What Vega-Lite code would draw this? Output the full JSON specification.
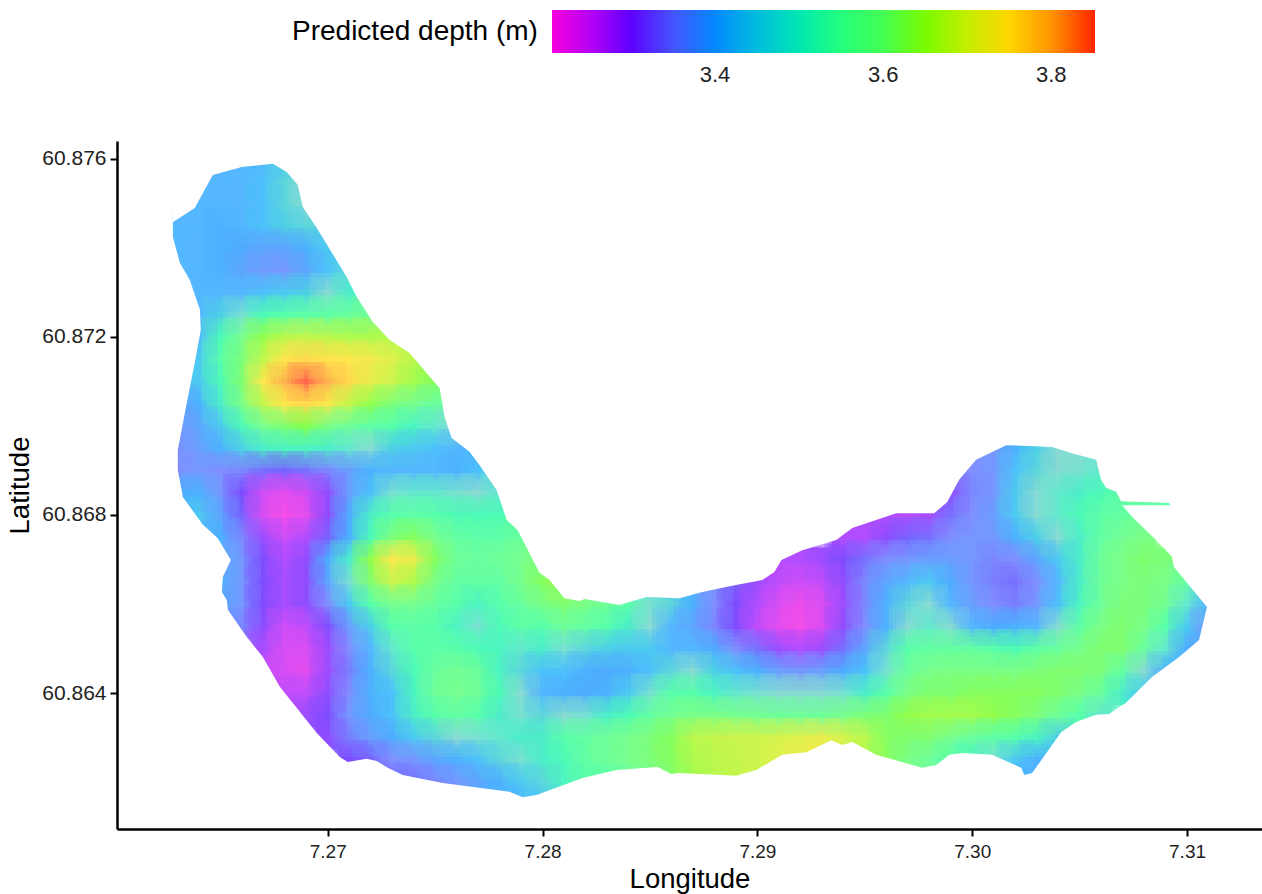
{"$schema":"https://vega.github.io/schema/vega-lite/v6.json","width":1145,"height":688,"autosize":{"type":"none"},"padding":{"left":117,"top":141,"right":0,"bottom":65},"background":"white","config":{"view":{"stroke":null},"font":"Liberation Sans"},
"datasets":{"cells":[
{"lon":7.266,"lat":60.876,"d":3.42},{"lon":7.267,"lat":60.876,"d":3.42},{"lon":7.268,"lat":60.876,"d":3.44},
{"lon":7.264,"lat":60.8755,"d":3.42},{"lon":7.265,"lat":60.8755,"d":3.42},{"lon":7.266,"lat":60.8755,"d":3.42},{"lon":7.267,"lat":60.8755,"d":3.43},{"lon":7.268,"lat":60.8755,"d":3.46},{"lon":7.269,"lat":60.8755,"d":3.47},
{"lon":7.264,"lat":60.875,"d":3.42},{"lon":7.265,"lat":60.875,"d":3.42},{"lon":7.266,"lat":60.875,"d":3.42},{"lon":7.267,"lat":60.875,"d":3.43},{"lon":7.268,"lat":60.875,"d":3.46},{"lon":7.269,"lat":60.875,"d":3.47},
{"lon":7.263,"lat":60.8745,"d":3.42},{"lon":7.264,"lat":60.8745,"d":3.42},{"lon":7.265,"lat":60.8745,"d":3.41},{"lon":7.266,"lat":60.8745,"d":3.42},{"lon":7.267,"lat":60.8745,"d":3.43},{"lon":7.268,"lat":60.8745,"d":3.45},{"lon":7.269,"lat":60.8745,"d":3.46},{"lon":7.27,"lat":60.8745,"d":3.46},
{"lon":7.263,"lat":60.874,"d":3.42},{"lon":7.264,"lat":60.874,"d":3.42},{"lon":7.265,"lat":60.874,"d":3.41},{"lon":7.266,"lat":60.874,"d":3.4},{"lon":7.267,"lat":60.874,"d":3.39},{"lon":7.268,"lat":60.874,"d":3.39},{"lon":7.269,"lat":60.874,"d":3.41},{"lon":7.27,"lat":60.874,"d":3.44},
{"lon":7.263,"lat":60.8735,"d":3.42},{"lon":7.264,"lat":60.8735,"d":3.42},{"lon":7.265,"lat":60.8735,"d":3.41},{"lon":7.266,"lat":60.8735,"d":3.39},{"lon":7.267,"lat":60.8735,"d":3.375},{"lon":7.268,"lat":60.8735,"d":3.37},{"lon":7.269,"lat":60.8735,"d":3.39},{"lon":7.27,"lat":60.8735,"d":3.43},{"lon":7.271,"lat":60.8735,"d":3.46},
{"lon":7.264,"lat":60.873,"d":3.42},{"lon":7.265,"lat":60.873,"d":3.42},{"lon":7.266,"lat":60.873,"d":3.42},{"lon":7.267,"lat":60.873,"d":3.43},{"lon":7.268,"lat":60.873,"d":3.44},{"lon":7.269,"lat":60.873,"d":3.45},{"lon":7.27,"lat":60.873,"d":3.47},{"lon":7.271,"lat":60.873,"d":3.5},
{"lon":7.264,"lat":60.8725,"d":3.42},{"lon":7.265,"lat":60.8725,"d":3.45},{"lon":7.266,"lat":60.8725,"d":3.48},{"lon":7.267,"lat":60.8725,"d":3.52},{"lon":7.268,"lat":60.8725,"d":3.53},{"lon":7.269,"lat":60.8725,"d":3.54},{"lon":7.27,"lat":60.8725,"d":3.54},{"lon":7.271,"lat":60.8725,"d":3.56},{"lon":7.272,"lat":60.8725,"d":3.58},
{"lon":7.264,"lat":60.872,"d":3.42},{"lon":7.265,"lat":60.872,"d":3.52},{"lon":7.266,"lat":60.872,"d":3.59},{"lon":7.267,"lat":60.872,"d":3.64},{"lon":7.268,"lat":60.872,"d":3.67},{"lon":7.269,"lat":60.872,"d":3.68},{"lon":7.27,"lat":60.872,"d":3.67},{"lon":7.271,"lat":60.872,"d":3.66},{"lon":7.272,"lat":60.872,"d":3.66},{"lon":7.273,"lat":60.872,"d":3.66},
{"lon":7.264,"lat":60.8715,"d":3.44},{"lon":7.265,"lat":60.8715,"d":3.53},{"lon":7.266,"lat":60.8715,"d":3.61},{"lon":7.267,"lat":60.8715,"d":3.68},{"lon":7.268,"lat":60.8715,"d":3.745},{"lon":7.269,"lat":60.8715,"d":3.76},{"lon":7.27,"lat":60.8715,"d":3.75},{"lon":7.271,"lat":60.8715,"d":3.745},{"lon":7.272,"lat":60.8715,"d":3.73},{"lon":7.273,"lat":60.8715,"d":3.71},{"lon":7.274,"lat":60.8715,"d":3.67},
{"lon":7.264,"lat":60.871,"d":3.44},{"lon":7.265,"lat":60.871,"d":3.52},{"lon":7.266,"lat":60.871,"d":3.62},{"lon":7.267,"lat":60.871,"d":3.74},{"lon":7.268,"lat":60.871,"d":3.8},{"lon":7.269,"lat":60.871,"d":3.85},{"lon":7.27,"lat":60.871,"d":3.8},{"lon":7.271,"lat":60.871,"d":3.76},{"lon":7.272,"lat":60.871,"d":3.72},{"lon":7.273,"lat":60.871,"d":3.69},{"lon":7.274,"lat":60.871,"d":3.65},{"lon":7.275,"lat":60.871,"d":3.63},
{"lon":7.263,"lat":60.8705,"d":3.38},{"lon":7.264,"lat":60.8705,"d":3.41},{"lon":7.265,"lat":60.8705,"d":3.5},{"lon":7.266,"lat":60.8705,"d":3.6},{"lon":7.267,"lat":60.8705,"d":3.68},{"lon":7.268,"lat":60.8705,"d":3.745},{"lon":7.269,"lat":60.8705,"d":3.76},{"lon":7.27,"lat":60.8705,"d":3.74},{"lon":7.271,"lat":60.8705,"d":3.68},{"lon":7.272,"lat":60.8705,"d":3.64},{"lon":7.273,"lat":60.8705,"d":3.61},{"lon":7.274,"lat":60.8705,"d":3.59},{"lon":7.275,"lat":60.8705,"d":3.56},
{"lon":7.263,"lat":60.87,"d":3.37},{"lon":7.264,"lat":60.87,"d":3.39},{"lon":7.265,"lat":60.87,"d":3.44},{"lon":7.266,"lat":60.87,"d":3.52},{"lon":7.267,"lat":60.87,"d":3.59},{"lon":7.268,"lat":60.87,"d":3.62},{"lon":7.269,"lat":60.87,"d":3.635},{"lon":7.27,"lat":60.87,"d":3.6},{"lon":7.271,"lat":60.87,"d":3.57},{"lon":7.272,"lat":60.87,"d":3.54},{"lon":7.273,"lat":60.87,"d":3.53},{"lon":7.274,"lat":60.87,"d":3.51},{"lon":7.275,"lat":60.87,"d":3.49},{"lon":7.276,"lat":60.87,"d":3.47},
{"lon":7.263,"lat":60.8695,"d":3.36},{"lon":7.264,"lat":60.8695,"d":3.38},{"lon":7.265,"lat":60.8695,"d":3.41},{"lon":7.266,"lat":60.8695,"d":3.45},{"lon":7.267,"lat":60.8695,"d":3.5},{"lon":7.268,"lat":60.8695,"d":3.51},{"lon":7.269,"lat":60.8695,"d":3.51},{"lon":7.27,"lat":60.8695,"d":3.5},{"lon":7.271,"lat":60.8695,"d":3.49},{"lon":7.272,"lat":60.8695,"d":3.47},{"lon":7.273,"lat":60.8695,"d":3.45},{"lon":7.274,"lat":60.8695,"d":3.44},{"lon":7.275,"lat":60.8695,"d":3.43},{"lon":7.276,"lat":60.8695,"d":3.42},{"lon":7.277,"lat":60.8695,"d":3.41},{"lon":7.301,"lat":60.8695,"d":3.37},{"lon":7.302,"lat":60.8695,"d":3.41},{"lon":7.303,"lat":60.8695,"d":3.45},{"lon":7.304,"lat":60.8695,"d":3.47},{"lon":7.305,"lat":60.8695,"d":3.47},
{"lon":7.263,"lat":60.869,"d":3.36},{"lon":7.264,"lat":60.869,"d":3.37},{"lon":7.265,"lat":60.869,"d":3.36},{"lon":7.266,"lat":60.869,"d":3.35},{"lon":7.267,"lat":60.869,"d":3.33},{"lon":7.268,"lat":60.869,"d":3.32},{"lon":7.269,"lat":60.869,"d":3.33},{"lon":7.27,"lat":60.869,"d":3.35},{"lon":7.271,"lat":60.869,"d":3.38},{"lon":7.272,"lat":60.869,"d":3.41},{"lon":7.273,"lat":60.869,"d":3.42},{"lon":7.274,"lat":60.869,"d":3.42},{"lon":7.275,"lat":60.869,"d":3.42},{"lon":7.276,"lat":60.869,"d":3.41},{"lon":7.277,"lat":60.869,"d":3.43},{"lon":7.278,"lat":60.869,"d":3.46},{"lon":7.3,"lat":60.869,"d":3.36},{"lon":7.301,"lat":60.869,"d":3.37},{"lon":7.302,"lat":60.869,"d":3.43},{"lon":7.303,"lat":60.869,"d":3.46},{"lon":7.304,"lat":60.869,"d":3.47},{"lon":7.305,"lat":60.869,"d":3.48},{"lon":7.306,"lat":60.869,"d":3.49},
{"lon":7.263,"lat":60.8685,"d":3.4},{"lon":7.264,"lat":60.8685,"d":3.41},{"lon":7.265,"lat":60.8685,"d":3.37},{"lon":7.266,"lat":60.8685,"d":3.31},{"lon":7.267,"lat":60.8685,"d":3.25},{"lon":7.268,"lat":60.8685,"d":3.23},{"lon":7.269,"lat":60.8685,"d":3.25},{"lon":7.27,"lat":60.8685,"d":3.3},{"lon":7.271,"lat":60.8685,"d":3.38},{"lon":7.272,"lat":60.8685,"d":3.43},{"lon":7.273,"lat":60.8685,"d":3.48},{"lon":7.274,"lat":60.8685,"d":3.49},{"lon":7.275,"lat":60.8685,"d":3.49},{"lon":7.276,"lat":60.8685,"d":3.48},{"lon":7.277,"lat":60.8685,"d":3.47},{"lon":7.278,"lat":60.8685,"d":3.49},{"lon":7.299,"lat":60.8685,"d":3.3},{"lon":7.3,"lat":60.8685,"d":3.35},{"lon":7.301,"lat":60.8685,"d":3.37},{"lon":7.302,"lat":60.8685,"d":3.44},{"lon":7.303,"lat":60.8685,"d":3.47},{"lon":7.304,"lat":60.8685,"d":3.49},{"lon":7.305,"lat":60.8685,"d":3.5},{"lon":7.306,"lat":60.8685,"d":3.52},{"lon":7.307,"lat":60.8685,"d":3.54},{"lon":7.308,"lat":60.8685,"d":3.54},{"lon":7.309,"lat":60.8685,"d":3.54},
{"lon":7.264,"lat":60.868,"d":3.44},{"lon":7.265,"lat":60.868,"d":3.39},{"lon":7.266,"lat":60.868,"d":3.32},{"lon":7.267,"lat":60.868,"d":3.24},{"lon":7.268,"lat":60.868,"d":3.21},{"lon":7.269,"lat":60.868,"d":3.23},{"lon":7.27,"lat":60.868,"d":3.3},{"lon":7.271,"lat":60.868,"d":3.4},{"lon":7.272,"lat":60.868,"d":3.5},{"lon":7.273,"lat":60.868,"d":3.53},{"lon":7.274,"lat":60.868,"d":3.54},{"lon":7.275,"lat":60.868,"d":3.53},{"lon":7.276,"lat":60.868,"d":3.52},{"lon":7.277,"lat":60.868,"d":3.52},{"lon":7.278,"lat":60.868,"d":3.52},{"lon":7.279,"lat":60.868,"d":3.53},{"lon":7.295,"lat":60.868,"d":3.27},{"lon":7.296,"lat":60.868,"d":3.27},{"lon":7.297,"lat":60.868,"d":3.27},{"lon":7.298,"lat":60.868,"d":3.28},{"lon":7.299,"lat":60.868,"d":3.33},{"lon":7.3,"lat":60.868,"d":3.36},{"lon":7.301,"lat":60.868,"d":3.38},{"lon":7.302,"lat":60.868,"d":3.44},{"lon":7.303,"lat":60.868,"d":3.47},{"lon":7.304,"lat":60.868,"d":3.49},{"lon":7.305,"lat":60.868,"d":3.52},{"lon":7.306,"lat":60.868,"d":3.54},{"lon":7.307,"lat":60.868,"d":3.55},{"lon":7.308,"lat":60.868,"d":3.56},{"lon":7.309,"lat":60.868,"d":3.54},
{"lon":7.265,"lat":60.8675,"d":3.41},{"lon":7.266,"lat":60.8675,"d":3.35},{"lon":7.267,"lat":60.8675,"d":3.29},{"lon":7.268,"lat":60.8675,"d":3.25},{"lon":7.269,"lat":60.8675,"d":3.27},{"lon":7.27,"lat":60.8675,"d":3.32},{"lon":7.271,"lat":60.8675,"d":3.41},{"lon":7.272,"lat":60.8675,"d":3.52},{"lon":7.273,"lat":60.8675,"d":3.61},{"lon":7.274,"lat":60.8675,"d":3.63},{"lon":7.275,"lat":60.8675,"d":3.59},{"lon":7.276,"lat":60.8675,"d":3.55},{"lon":7.277,"lat":60.8675,"d":3.54},{"lon":7.278,"lat":60.8675,"d":3.54},{"lon":7.279,"lat":60.8675,"d":3.56},{"lon":7.294,"lat":60.8675,"d":3.27},{"lon":7.295,"lat":60.8675,"d":3.27},{"lon":7.296,"lat":60.8675,"d":3.3},{"lon":7.297,"lat":60.8675,"d":3.32},{"lon":7.298,"lat":60.8675,"d":3.33},{"lon":7.299,"lat":60.8675,"d":3.36},{"lon":7.3,"lat":60.8675,"d":3.37},{"lon":7.301,"lat":60.8675,"d":3.37},{"lon":7.302,"lat":60.8675,"d":3.41},{"lon":7.303,"lat":60.8675,"d":3.45},{"lon":7.304,"lat":60.8675,"d":3.47},{"lon":7.305,"lat":60.8675,"d":3.5},{"lon":7.306,"lat":60.8675,"d":3.55},{"lon":7.307,"lat":60.8675,"d":3.58},{"lon":7.308,"lat":60.8675,"d":3.6},
{"lon":7.265,"lat":60.867,"d":3.42},{"lon":7.266,"lat":60.867,"d":3.37},{"lon":7.267,"lat":60.867,"d":3.31},{"lon":7.268,"lat":60.867,"d":3.27},{"lon":7.269,"lat":60.867,"d":3.3},{"lon":7.27,"lat":60.867,"d":3.4},{"lon":7.271,"lat":60.867,"d":3.5},{"lon":7.272,"lat":60.867,"d":3.64},{"lon":7.273,"lat":60.867,"d":3.74},{"lon":7.274,"lat":60.867,"d":3.72},{"lon":7.275,"lat":60.867,"d":3.63},{"lon":7.276,"lat":60.867,"d":3.57},{"lon":7.277,"lat":60.867,"d":3.56},{"lon":7.278,"lat":60.867,"d":3.57},{"lon":7.279,"lat":60.867,"d":3.59},{"lon":7.28,"lat":60.867,"d":3.61},{"lon":7.291,"lat":60.867,"d":3.27},{"lon":7.292,"lat":60.867,"d":3.27},{"lon":7.293,"lat":60.867,"d":3.29},{"lon":7.294,"lat":60.867,"d":3.31},{"lon":7.295,"lat":60.867,"d":3.33},{"lon":7.296,"lat":60.867,"d":3.36},{"lon":7.297,"lat":60.867,"d":3.37},{"lon":7.298,"lat":60.867,"d":3.38},{"lon":7.299,"lat":60.867,"d":3.38},{"lon":7.3,"lat":60.867,"d":3.37},{"lon":7.301,"lat":60.867,"d":3.35},{"lon":7.302,"lat":60.867,"d":3.36},{"lon":7.303,"lat":60.867,"d":3.39},{"lon":7.304,"lat":60.867,"d":3.44},{"lon":7.305,"lat":60.867,"d":3.5},{"lon":7.306,"lat":60.867,"d":3.57},{"lon":7.307,"lat":60.867,"d":3.6},{"lon":7.308,"lat":60.867,"d":3.62},{"lon":7.309,"lat":60.867,"d":3.61},
{"lon":7.265,"lat":60.8665,"d":3.41},{"lon":7.266,"lat":60.8665,"d":3.37},{"lon":7.267,"lat":60.8665,"d":3.31},{"lon":7.268,"lat":60.8665,"d":3.28},{"lon":7.269,"lat":60.8665,"d":3.3},{"lon":7.27,"lat":60.8665,"d":3.39},{"lon":7.271,"lat":60.8665,"d":3.48},{"lon":7.272,"lat":60.8665,"d":3.62},{"lon":7.273,"lat":60.8665,"d":3.69},{"lon":7.274,"lat":60.8665,"d":3.66},{"lon":7.275,"lat":60.8665,"d":3.6},{"lon":7.276,"lat":60.8665,"d":3.55},{"lon":7.277,"lat":60.8665,"d":3.55},{"lon":7.278,"lat":60.8665,"d":3.55},{"lon":7.279,"lat":60.8665,"d":3.59},{"lon":7.28,"lat":60.8665,"d":3.63},{"lon":7.281,"lat":60.8665,"d":3.65},{"lon":7.288,"lat":60.8665,"d":3.37},{"lon":7.289,"lat":60.8665,"d":3.32},{"lon":7.29,"lat":60.8665,"d":3.29},{"lon":7.291,"lat":60.8665,"d":3.26},{"lon":7.292,"lat":60.8665,"d":3.25},{"lon":7.293,"lat":60.8665,"d":3.26},{"lon":7.294,"lat":60.8665,"d":3.3},{"lon":7.295,"lat":60.8665,"d":3.35},{"lon":7.296,"lat":60.8665,"d":3.39},{"lon":7.297,"lat":60.8665,"d":3.42},{"lon":7.298,"lat":60.8665,"d":3.44},{"lon":7.299,"lat":60.8665,"d":3.4},{"lon":7.3,"lat":60.8665,"d":3.37},{"lon":7.301,"lat":60.8665,"d":3.34},{"lon":7.302,"lat":60.8665,"d":3.33},{"lon":7.303,"lat":60.8665,"d":3.36},{"lon":7.304,"lat":60.8665,"d":3.42},{"lon":7.305,"lat":60.8665,"d":3.5},{"lon":7.306,"lat":60.8665,"d":3.57},{"lon":7.307,"lat":60.8665,"d":3.6},{"lon":7.308,"lat":60.8665,"d":3.61},{"lon":7.309,"lat":60.8665,"d":3.6},{"lon":7.31,"lat":60.8665,"d":3.55},
{"lon":7.265,"lat":60.866,"d":3.4},{"lon":7.266,"lat":60.866,"d":3.37},{"lon":7.267,"lat":60.866,"d":3.31},{"lon":7.268,"lat":60.866,"d":3.28},{"lon":7.269,"lat":60.866,"d":3.3},{"lon":7.27,"lat":60.866,"d":3.36},{"lon":7.271,"lat":60.866,"d":3.44},{"lon":7.272,"lat":60.866,"d":3.53},{"lon":7.273,"lat":60.866,"d":3.59},{"lon":7.274,"lat":60.866,"d":3.59},{"lon":7.275,"lat":60.866,"d":3.56},{"lon":7.276,"lat":60.866,"d":3.53},{"lon":7.277,"lat":60.866,"d":3.51},{"lon":7.278,"lat":60.866,"d":3.53},{"lon":7.279,"lat":60.866,"d":3.56},{"lon":7.28,"lat":60.866,"d":3.6},{"lon":7.281,"lat":60.866,"d":3.62},{"lon":7.282,"lat":60.866,"d":3.6},{"lon":7.283,"lat":60.866,"d":3.57},{"lon":7.284,"lat":60.866,"d":3.53},{"lon":7.285,"lat":60.866,"d":3.48},{"lon":7.286,"lat":60.866,"d":3.46},{"lon":7.287,"lat":60.866,"d":3.41},{"lon":7.288,"lat":60.866,"d":3.36},{"lon":7.289,"lat":60.866,"d":3.31},{"lon":7.29,"lat":60.866,"d":3.27},{"lon":7.291,"lat":60.866,"d":3.24},{"lon":7.292,"lat":60.866,"d":3.22},{"lon":7.293,"lat":60.866,"d":3.24},{"lon":7.294,"lat":60.866,"d":3.29},{"lon":7.295,"lat":60.866,"d":3.35},{"lon":7.296,"lat":60.866,"d":3.41},{"lon":7.297,"lat":60.866,"d":3.46},{"lon":7.298,"lat":60.866,"d":3.47},{"lon":7.299,"lat":60.866,"d":3.42},{"lon":7.3,"lat":60.866,"d":3.38},{"lon":7.301,"lat":60.866,"d":3.36},{"lon":7.302,"lat":60.866,"d":3.34},{"lon":7.303,"lat":60.866,"d":3.37},{"lon":7.304,"lat":60.866,"d":3.43},{"lon":7.305,"lat":60.866,"d":3.51},{"lon":7.306,"lat":60.866,"d":3.57},{"lon":7.307,"lat":60.866,"d":3.61},{"lon":7.308,"lat":60.866,"d":3.61},{"lon":7.309,"lat":60.866,"d":3.58},{"lon":7.31,"lat":60.866,"d":3.49},{"lon":7.311,"lat":60.866,"d":3.42},
{"lon":7.266,"lat":60.8655,"d":3.35},{"lon":7.267,"lat":60.8655,"d":3.3},{"lon":7.268,"lat":60.8655,"d":3.25},{"lon":7.269,"lat":60.8655,"d":3.26},{"lon":7.27,"lat":60.8655,"d":3.31},{"lon":7.271,"lat":60.8655,"d":3.38},{"lon":7.272,"lat":60.8655,"d":3.45},{"lon":7.273,"lat":60.8655,"d":3.53},{"lon":7.274,"lat":60.8655,"d":3.54},{"lon":7.275,"lat":60.8655,"d":3.53},{"lon":7.276,"lat":60.8655,"d":3.51},{"lon":7.277,"lat":60.8655,"d":3.48},{"lon":7.278,"lat":60.8655,"d":3.52},{"lon":7.279,"lat":60.8655,"d":3.54},{"lon":7.28,"lat":60.8655,"d":3.53},{"lon":7.281,"lat":60.8655,"d":3.57},{"lon":7.282,"lat":60.8655,"d":3.55},{"lon":7.283,"lat":60.8655,"d":3.53},{"lon":7.284,"lat":60.8655,"d":3.5},{"lon":7.285,"lat":60.8655,"d":3.47},{"lon":7.286,"lat":60.8655,"d":3.42},{"lon":7.287,"lat":60.8655,"d":3.39},{"lon":7.288,"lat":60.8655,"d":3.35},{"lon":7.289,"lat":60.8655,"d":3.31},{"lon":7.29,"lat":60.8655,"d":3.26},{"lon":7.291,"lat":60.8655,"d":3.23},{"lon":7.292,"lat":60.8655,"d":3.21},{"lon":7.293,"lat":60.8655,"d":3.24},{"lon":7.294,"lat":60.8655,"d":3.3},{"lon":7.295,"lat":60.8655,"d":3.36},{"lon":7.296,"lat":60.8655,"d":3.41},{"lon":7.297,"lat":60.8655,"d":3.47},{"lon":7.298,"lat":60.8655,"d":3.49},{"lon":7.299,"lat":60.8655,"d":3.47},{"lon":7.3,"lat":60.8655,"d":3.42},{"lon":7.301,"lat":60.8655,"d":3.4},{"lon":7.302,"lat":60.8655,"d":3.41},{"lon":7.303,"lat":60.8655,"d":3.42},{"lon":7.304,"lat":60.8655,"d":3.47},{"lon":7.305,"lat":60.8655,"d":3.54},{"lon":7.306,"lat":60.8655,"d":3.6},{"lon":7.307,"lat":60.8655,"d":3.62},{"lon":7.308,"lat":60.8655,"d":3.6},{"lon":7.309,"lat":60.8655,"d":3.53},{"lon":7.31,"lat":60.8655,"d":3.44},{"lon":7.311,"lat":60.8655,"d":3.37},
{"lon":7.267,"lat":60.865,"d":3.28},{"lon":7.268,"lat":60.865,"d":3.24},{"lon":7.269,"lat":60.865,"d":3.24},{"lon":7.27,"lat":60.865,"d":3.29},{"lon":7.271,"lat":60.865,"d":3.36},{"lon":7.272,"lat":60.865,"d":3.42},{"lon":7.273,"lat":60.865,"d":3.49},{"lon":7.274,"lat":60.865,"d":3.53},{"lon":7.275,"lat":60.865,"d":3.54},{"lon":7.276,"lat":60.865,"d":3.53},{"lon":7.277,"lat":60.865,"d":3.52},{"lon":7.278,"lat":60.865,"d":3.51},{"lon":7.279,"lat":60.865,"d":3.49},{"lon":7.28,"lat":60.865,"d":3.5},{"lon":7.281,"lat":60.865,"d":3.48},{"lon":7.282,"lat":60.865,"d":3.46},{"lon":7.283,"lat":60.865,"d":3.45},{"lon":7.284,"lat":60.865,"d":3.44},{"lon":7.285,"lat":60.865,"d":3.44},{"lon":7.286,"lat":60.865,"d":3.42},{"lon":7.287,"lat":60.865,"d":3.42},{"lon":7.288,"lat":60.865,"d":3.4},{"lon":7.289,"lat":60.865,"d":3.36},{"lon":7.29,"lat":60.865,"d":3.33},{"lon":7.291,"lat":60.865,"d":3.29},{"lon":7.292,"lat":60.865,"d":3.27},{"lon":7.293,"lat":60.865,"d":3.29},{"lon":7.294,"lat":60.865,"d":3.33},{"lon":7.295,"lat":60.865,"d":3.39},{"lon":7.296,"lat":60.865,"d":3.46},{"lon":7.297,"lat":60.865,"d":3.53},{"lon":7.298,"lat":60.865,"d":3.55},{"lon":7.299,"lat":60.865,"d":3.55},{"lon":7.3,"lat":60.865,"d":3.55},{"lon":7.301,"lat":60.865,"d":3.53},{"lon":7.302,"lat":60.865,"d":3.52},{"lon":7.303,"lat":60.865,"d":3.54},{"lon":7.304,"lat":60.865,"d":3.56},{"lon":7.305,"lat":60.865,"d":3.59},{"lon":7.306,"lat":60.865,"d":3.62},{"lon":7.307,"lat":60.865,"d":3.62},{"lon":7.308,"lat":60.865,"d":3.56},{"lon":7.309,"lat":60.865,"d":3.49},{"lon":7.31,"lat":60.865,"d":3.4},
{"lon":7.267,"lat":60.8645,"d":3.26},{"lon":7.268,"lat":60.8645,"d":3.24},{"lon":7.269,"lat":60.8645,"d":3.23},{"lon":7.27,"lat":60.8645,"d":3.29},{"lon":7.271,"lat":60.8645,"d":3.34},{"lon":7.272,"lat":60.8645,"d":3.41},{"lon":7.273,"lat":60.8645,"d":3.46},{"lon":7.274,"lat":60.8645,"d":3.52},{"lon":7.275,"lat":60.8645,"d":3.56},{"lon":7.276,"lat":60.8645,"d":3.58},{"lon":7.277,"lat":60.8645,"d":3.56},{"lon":7.278,"lat":60.8645,"d":3.51},{"lon":7.279,"lat":60.8645,"d":3.46},{"lon":7.28,"lat":60.8645,"d":3.43},{"lon":7.281,"lat":60.8645,"d":3.43},{"lon":7.282,"lat":60.8645,"d":3.41},{"lon":7.283,"lat":60.8645,"d":3.4},{"lon":7.284,"lat":60.8645,"d":3.41},{"lon":7.285,"lat":60.8645,"d":3.43},{"lon":7.286,"lat":60.8645,"d":3.46},{"lon":7.287,"lat":60.8645,"d":3.47},{"lon":7.288,"lat":60.8645,"d":3.45},{"lon":7.289,"lat":60.8645,"d":3.43},{"lon":7.29,"lat":60.8645,"d":3.41},{"lon":7.291,"lat":60.8645,"d":3.38},{"lon":7.292,"lat":60.8645,"d":3.37},{"lon":7.293,"lat":60.8645,"d":3.38},{"lon":7.294,"lat":60.8645,"d":3.4},{"lon":7.295,"lat":60.8645,"d":3.43},{"lon":7.296,"lat":60.8645,"d":3.48},{"lon":7.297,"lat":60.8645,"d":3.56},{"lon":7.298,"lat":60.8645,"d":3.59},{"lon":7.299,"lat":60.8645,"d":3.6},{"lon":7.3,"lat":60.8645,"d":3.6},{"lon":7.301,"lat":60.8645,"d":3.6},{"lon":7.302,"lat":60.8645,"d":3.6},{"lon":7.303,"lat":60.8645,"d":3.61},{"lon":7.304,"lat":60.8645,"d":3.62},{"lon":7.305,"lat":60.8645,"d":3.62},{"lon":7.306,"lat":60.8645,"d":3.61},{"lon":7.307,"lat":60.8645,"d":3.55},{"lon":7.308,"lat":60.8645,"d":3.47},{"lon":7.309,"lat":60.8645,"d":3.41},
{"lon":7.268,"lat":60.864,"d":3.26},{"lon":7.269,"lat":60.864,"d":3.26},{"lon":7.27,"lat":60.864,"d":3.3},{"lon":7.271,"lat":60.864,"d":3.36},{"lon":7.272,"lat":60.864,"d":3.41},{"lon":7.273,"lat":60.864,"d":3.43},{"lon":7.274,"lat":60.864,"d":3.51},{"lon":7.275,"lat":60.864,"d":3.57},{"lon":7.276,"lat":60.864,"d":3.59},{"lon":7.277,"lat":60.864,"d":3.57},{"lon":7.278,"lat":60.864,"d":3.52},{"lon":7.279,"lat":60.864,"d":3.47},{"lon":7.28,"lat":60.864,"d":3.42},{"lon":7.281,"lat":60.864,"d":3.41},{"lon":7.282,"lat":60.864,"d":3.4},{"lon":7.283,"lat":60.864,"d":3.41},{"lon":7.284,"lat":60.864,"d":3.44},{"lon":7.285,"lat":60.864,"d":3.48},{"lon":7.286,"lat":60.864,"d":3.53},{"lon":7.287,"lat":60.864,"d":3.53},{"lon":7.288,"lat":60.864,"d":3.51},{"lon":7.289,"lat":60.864,"d":3.49},{"lon":7.29,"lat":60.864,"d":3.48},{"lon":7.291,"lat":60.864,"d":3.47},{"lon":7.292,"lat":60.864,"d":3.47},{"lon":7.293,"lat":60.864,"d":3.47},{"lon":7.294,"lat":60.864,"d":3.48},{"lon":7.295,"lat":60.864,"d":3.5},{"lon":7.296,"lat":60.864,"d":3.53},{"lon":7.297,"lat":60.864,"d":3.6},{"lon":7.298,"lat":60.864,"d":3.62},{"lon":7.299,"lat":60.864,"d":3.62},{"lon":7.3,"lat":60.864,"d":3.63},{"lon":7.301,"lat":60.864,"d":3.63},{"lon":7.302,"lat":60.864,"d":3.63},{"lon":7.303,"lat":60.864,"d":3.63},{"lon":7.304,"lat":60.864,"d":3.62},{"lon":7.305,"lat":60.864,"d":3.6},{"lon":7.306,"lat":60.864,"d":3.56},{"lon":7.307,"lat":60.864,"d":3.5},{"lon":7.308,"lat":60.864,"d":3.44},
{"lon":7.269,"lat":60.8635,"d":3.29},{"lon":7.27,"lat":60.8635,"d":3.31},{"lon":7.271,"lat":60.8635,"d":3.37},{"lon":7.272,"lat":60.8635,"d":3.4},{"lon":7.273,"lat":60.8635,"d":3.43},{"lon":7.274,"lat":60.8635,"d":3.5},{"lon":7.275,"lat":60.8635,"d":3.53},{"lon":7.276,"lat":60.8635,"d":3.55},{"lon":7.277,"lat":60.8635,"d":3.53},{"lon":7.278,"lat":60.8635,"d":3.5},{"lon":7.279,"lat":60.8635,"d":3.48},{"lon":7.28,"lat":60.8635,"d":3.46},{"lon":7.281,"lat":60.8635,"d":3.47},{"lon":7.282,"lat":60.8635,"d":3.48},{"lon":7.283,"lat":60.8635,"d":3.5},{"lon":7.284,"lat":60.8635,"d":3.52},{"lon":7.285,"lat":60.8635,"d":3.55},{"lon":7.286,"lat":60.8635,"d":3.58},{"lon":7.287,"lat":60.8635,"d":3.6},{"lon":7.288,"lat":60.8635,"d":3.6},{"lon":7.289,"lat":60.8635,"d":3.59},{"lon":7.29,"lat":60.8635,"d":3.58},{"lon":7.291,"lat":60.8635,"d":3.57},{"lon":7.292,"lat":60.8635,"d":3.57},{"lon":7.293,"lat":60.8635,"d":3.57},{"lon":7.294,"lat":60.8635,"d":3.59},{"lon":7.295,"lat":60.8635,"d":3.61},{"lon":7.296,"lat":60.8635,"d":3.62},{"lon":7.297,"lat":60.8635,"d":3.64},{"lon":7.298,"lat":60.8635,"d":3.65},{"lon":7.299,"lat":60.8635,"d":3.65},{"lon":7.3,"lat":60.8635,"d":3.65},{"lon":7.301,"lat":60.8635,"d":3.64},{"lon":7.302,"lat":60.8635,"d":3.63},{"lon":7.303,"lat":60.8635,"d":3.61},{"lon":7.304,"lat":60.8635,"d":3.57},{"lon":7.305,"lat":60.8635,"d":3.53},{"lon":7.306,"lat":60.8635,"d":3.49},
{"lon":7.27,"lat":60.863,"d":3.3},{"lon":7.271,"lat":60.863,"d":3.34},{"lon":7.272,"lat":60.863,"d":3.38},{"lon":7.273,"lat":60.863,"d":3.4},{"lon":7.274,"lat":60.863,"d":3.44},{"lon":7.275,"lat":60.863,"d":3.46},{"lon":7.276,"lat":60.863,"d":3.47},{"lon":7.277,"lat":60.863,"d":3.48},{"lon":7.278,"lat":60.863,"d":3.49},{"lon":7.279,"lat":60.863,"d":3.5},{"lon":7.28,"lat":60.863,"d":3.5},{"lon":7.281,"lat":60.863,"d":3.53},{"lon":7.282,"lat":60.863,"d":3.55},{"lon":7.283,"lat":60.863,"d":3.57},{"lon":7.284,"lat":60.863,"d":3.59},{"lon":7.285,"lat":60.863,"d":3.61},{"lon":7.286,"lat":60.863,"d":3.63},{"lon":7.287,"lat":60.863,"d":3.67},{"lon":7.288,"lat":60.863,"d":3.68},{"lon":7.289,"lat":60.863,"d":3.69},{"lon":7.29,"lat":60.863,"d":3.69},{"lon":7.291,"lat":60.863,"d":3.7},{"lon":7.292,"lat":60.863,"d":3.71},{"lon":7.293,"lat":60.863,"d":3.72},{"lon":7.294,"lat":60.863,"d":3.7},{"lon":7.295,"lat":60.863,"d":3.67},{"lon":7.296,"lat":60.863,"d":3.63},{"lon":7.297,"lat":60.863,"d":3.62},{"lon":7.298,"lat":60.863,"d":3.62},{"lon":7.299,"lat":60.863,"d":3.59},{"lon":7.3,"lat":60.863,"d":3.56},{"lon":7.301,"lat":60.863,"d":3.54},{"lon":7.302,"lat":60.863,"d":3.53},{"lon":7.303,"lat":60.863,"d":3.51},{"lon":7.304,"lat":60.863,"d":3.45},
{"lon":7.271,"lat":60.8625,"d":3.31},{"lon":7.272,"lat":60.8625,"d":3.32},{"lon":7.273,"lat":60.8625,"d":3.36},{"lon":7.274,"lat":60.8625,"d":3.37},{"lon":7.275,"lat":60.8625,"d":3.39},{"lon":7.276,"lat":60.8625,"d":3.41},{"lon":7.277,"lat":60.8625,"d":3.43},{"lon":7.278,"lat":60.8625,"d":3.46},{"lon":7.279,"lat":60.8625,"d":3.48},{"lon":7.28,"lat":60.8625,"d":3.5},{"lon":7.281,"lat":60.8625,"d":3.52},{"lon":7.282,"lat":60.8625,"d":3.55},{"lon":7.283,"lat":60.8625,"d":3.57},{"lon":7.284,"lat":60.8625,"d":3.59},{"lon":7.285,"lat":60.8625,"d":3.61},{"lon":7.286,"lat":60.8625,"d":3.63},{"lon":7.287,"lat":60.8625,"d":3.66},{"lon":7.288,"lat":60.8625,"d":3.67},{"lon":7.289,"lat":60.8625,"d":3.68},{"lon":7.29,"lat":60.8625,"d":3.69},{"lon":7.291,"lat":60.8625,"d":3.71},{"lon":7.292,"lat":60.8625,"d":3.72},{"lon":7.293,"lat":60.8625,"d":3.73},{"lon":7.294,"lat":60.8625,"d":3.7},{"lon":7.295,"lat":60.8625,"d":3.67},{"lon":7.296,"lat":60.8625,"d":3.63},{"lon":7.297,"lat":60.8625,"d":3.6},{"lon":7.298,"lat":60.8625,"d":3.57},{"lon":7.299,"lat":60.8625,"d":3.53},{"lon":7.3,"lat":60.8625,"d":3.51},{"lon":7.301,"lat":60.8625,"d":3.48},{"lon":7.302,"lat":60.8625,"d":3.44},{"lon":7.303,"lat":60.8625,"d":3.41},
{"lon":7.273,"lat":60.862,"d":3.33},{"lon":7.274,"lat":60.862,"d":3.33},{"lon":7.275,"lat":60.862,"d":3.35},{"lon":7.276,"lat":60.862,"d":3.37},{"lon":7.277,"lat":60.862,"d":3.39},{"lon":7.278,"lat":60.862,"d":3.41},{"lon":7.279,"lat":60.862,"d":3.44},{"lon":7.28,"lat":60.862,"d":3.46},{"lon":7.281,"lat":60.862,"d":3.51},{"lon":7.282,"lat":60.862,"d":3.53},{"lon":7.283,"lat":60.862,"d":3.53},{"lon":7.284,"lat":60.862,"d":3.56},{"lon":7.285,"lat":60.862,"d":3.59},{"lon":7.286,"lat":60.862,"d":3.62},{"lon":7.287,"lat":60.862,"d":3.65},{"lon":7.288,"lat":60.862,"d":3.67},{"lon":7.289,"lat":60.862,"d":3.68},{"lon":7.29,"lat":60.862,"d":3.69},{"lon":7.302,"lat":60.862,"d":3.42},{"lon":7.303,"lat":60.862,"d":3.41},
{"lon":7.278,"lat":60.8615,"d":3.41},{"lon":7.279,"lat":60.8615,"d":3.42},{"lon":7.28,"lat":60.8615,"d":3.44}
]},
"encoding":{"x":{"field":"lon","type":"quantitative","title":"Longitude","scale":{"domain":[7.26019,7.31349],"nice":false,"zero":false},"axis":{"values":[7.27,7.28,7.29,7.3,7.31],"format":".2f","grid":false,"zindex":1,"domainColor":"black","domainWidth":2.5,"tickColor":"black","tickWidth":2,"tickSize":7,"labelColor":"#222222","labelFontSize":19,"labelPadding":6,"titleFontSize":27.5,"titleFontWeight":"normal","titleColor":"black","titlePadding":4}},"y":{"field":"lat","type":"quantitative","title":"Latitude","scale":{"domain":[60.860944,60.876404],"nice":false,"zero":false},"axis":{"values":[60.864,60.868,60.872,60.876],"format":".3f","grid":false,"zindex":1,"domainColor":"black","domainWidth":2.5,"tickColor":"black","tickWidth":2,"tickSize":7,"labelColor":"#222222","labelFontSize":21,"labelPadding":4,"titleFontSize":27.5,"titleFontWeight":"normal","titleColor":"black","titlePadding":7}}},
"layer":[
{"data":{"name":"cells"},"mark":{"type":"rect","width":23,"height":24,"clip":true},"encoding":{"color":{"field":"d","type":"quantitative","title":"Predicted depth (m)","scale":{"domain":[3.206,3.27,3.313,3.36,3.42,3.47,3.53,3.59,3.635,3.7,3.745,3.795,3.852],"range":["#f500dc","#9000ff","#4000ff","#4a60ff","#0d99ff","#55ccc0","#12ff88","#40ff60","#55ff00","#c4ee00","#ffdd00","#ff9a00","#ff2000"],"clamp":true,"nice":false,"zero":false},"legend":{"orient":"none","legendX":175,"legendY":-131,"direction":"horizontal","titleOrient":"left","titleLimit":320,"gradientLength":543,"gradientThickness":43,"gradientStrokeWidth":0,"values":[3.4,3.6,3.8],"format":".1f","titleFontSize":28,"titleFontWeight":"normal","titleColor":"black","titlePadding":14,"labelFontSize":22,"labelColor":"#222222","labelOffset":12}}}},
{"data":{"name":"cells"},"mark":{"type":"rect","width":30,"height":31,"fillOpacity":0.4,"clip":true},"encoding":{"color":{"field":"d","type":"quantitative","legend":null,"scale":{"domain":[3.206,3.27,3.313,3.36,3.42,3.47,3.53,3.59,3.635,3.7,3.745,3.795,3.852],"range":["#f500dc","#9000ff","#4000ff","#4a60ff","#0d99ff","#55ccc0","#12ff88","#40ff60","#55ff00","#c4ee00","#ffdd00","#ff9a00","#ff2000"],"clamp":true,"nice":false,"zero":false}}}},
{"data":{"name":"cells"},"mark":{"type":"rect","width":38,"height":39,"fillOpacity":0.25,"clip":true},"encoding":{"color":{"field":"d","type":"quantitative","legend":null,"scale":{"domain":[3.206,3.27,3.313,3.36,3.42,3.47,3.53,3.59,3.635,3.7,3.745,3.795,3.852],"range":["#f500dc","#9000ff","#4000ff","#4a60ff","#0d99ff","#55ccc0","#12ff88","#40ff60","#55ff00","#c4ee00","#ffdd00","#ff9a00","#ff2000"],"clamp":true,"nice":false,"zero":false}}}},
{"data":{"values":[{"lon":7.26019,"lat":60.860944}]},"mark":{"type":"rect","color":"white","opacity":0.3},"encoding":{"x2":{"datum":7.31349},"y2":{"datum":60.876404}}},
{"data":{"values":[{"lon":7.26279,"lat":60.87458},{"lon":7.26381,"lat":60.8749},{"lon":7.26465,"lat":60.87564},{"lon":7.266,"lat":60.87582},{"lon":7.26744,"lat":60.87589},{"lon":7.26809,"lat":60.87571},{"lon":7.2686,"lat":60.87542},{"lon":7.26884,"lat":60.87492},{"lon":7.26949,"lat":60.87445},{"lon":7.27088,"lat":60.87335},{"lon":7.27135,"lat":60.8729},{"lon":7.27209,"lat":60.87234},{"lon":7.27288,"lat":60.87193},{"lon":7.27381,"lat":60.87164},{"lon":7.27521,"lat":60.87085},{"lon":7.27544,"lat":60.8702},{"lon":7.27577,"lat":60.86973},{"lon":7.2766,"lat":60.86942},{"lon":7.27707,"lat":60.86912},{"lon":7.27786,"lat":60.86856},{"lon":7.27833,"lat":60.86789},{"lon":7.27884,"lat":60.86766},{"lon":7.27986,"lat":60.8667},{"lon":7.28033,"lat":60.86654},{"lon":7.28102,"lat":60.86613},{"lon":7.28172,"lat":60.86607},{"lon":7.28195,"lat":60.86611},{"lon":7.28358,"lat":60.86598},{"lon":7.28484,"lat":60.86616},{"lon":7.28637,"lat":60.86613},{"lon":7.28744,"lat":60.86627},{"lon":7.2887,"lat":60.8664},{"lon":7.29023,"lat":60.86654},{"lon":7.29079,"lat":60.86672},{"lon":7.29112,"lat":60.86699},{"lon":7.29209,"lat":60.86721},{"lon":7.29367,"lat":60.86744},{"lon":7.29442,"lat":60.86771},{"lon":7.29646,"lat":60.86804},{"lon":7.29823,"lat":60.86804},{"lon":7.29884,"lat":60.86829},{"lon":7.29939,"lat":60.86879},{"lon":7.30018,"lat":60.86924},{"lon":7.30158,"lat":60.86957},{"lon":7.30372,"lat":60.86953},{"lon":7.30465,"lat":60.86939},{"lon":7.30577,"lat":60.86924},{"lon":7.306,"lat":60.86879},{"lon":7.30623,"lat":60.86861},{"lon":7.3067,"lat":60.86852},{"lon":7.30693,"lat":60.86831},{"lon":7.30916,"lat":60.86827},{"lon":7.30925,"lat":60.8682},{"lon":7.31349,"lat":60.8682}]},"mark":{"type":"area","color":"white","opacity":1,"interpolate":"linear"},"encoding":{"y2":{"datum":60.876404}}},
{"data":{"values":[{"lon":7.264,"lat":60.86627},{"lon":7.26507,"lat":60.86627},{"lon":7.2653,"lat":60.86609},{"lon":7.26535,"lat":60.86587},{"lon":7.26623,"lat":60.86526},{"lon":7.26698,"lat":60.86481},{"lon":7.26777,"lat":60.86414},{"lon":7.26949,"lat":60.8631},{"lon":7.27056,"lat":60.86256},{"lon":7.27093,"lat":60.86245},{"lon":7.27181,"lat":60.86252},{"lon":7.27228,"lat":60.86247},{"lon":7.27279,"lat":60.86232},{"lon":7.27349,"lat":60.86216},{"lon":7.27535,"lat":60.86198},{"lon":7.27846,"lat":60.86178},{"lon":7.27907,"lat":60.86166},{"lon":7.27972,"lat":60.86171},{"lon":7.28186,"lat":60.86209},{"lon":7.28344,"lat":60.86227},{"lon":7.28535,"lat":60.86234},{"lon":7.286,"lat":60.86218},{"lon":7.28637,"lat":60.8622},{"lon":7.28902,"lat":60.86214},{"lon":7.28995,"lat":60.86227},{"lon":7.29116,"lat":60.86261},{"lon":7.29228,"lat":60.86267},{"lon":7.29344,"lat":60.86294},{"lon":7.29395,"lat":60.86283},{"lon":7.29442,"lat":60.8629},{"lon":7.29553,"lat":60.86261},{"lon":7.29767,"lat":60.86232},{"lon":7.29832,"lat":60.86238},{"lon":7.29893,"lat":60.86261},{"lon":7.29953,"lat":60.86265},{"lon":7.30093,"lat":60.86261},{"lon":7.30228,"lat":60.86232},{"lon":7.30242,"lat":60.86216},{"lon":7.30279,"lat":60.8622},{"lon":7.30414,"lat":60.86312},{"lon":7.30484,"lat":60.86335},{"lon":7.30577,"lat":60.86351},{"lon":7.30637,"lat":60.86353},{"lon":7.30716,"lat":60.86378},{"lon":7.30837,"lat":60.86436},{"lon":7.30963,"lat":60.86481},{"lon":7.31056,"lat":60.86519},{"lon":7.31093,"lat":60.86593},{"lon":7.31349,"lat":60.86593}]},"mark":{"type":"area","color":"white","opacity":1,"interpolate":"linear"},"encoding":{"y2":{"datum":60.860944}}},
{"data":{"values":[{"lat":60.87497,"lon":7.26279},{"lat":60.87458,"lon":7.26279},{"lat":60.87425,"lon":7.26279},{"lat":60.87366,"lon":7.26312},{"lat":60.87328,"lon":7.26358},{"lat":60.87261,"lon":7.26405},{"lat":60.87216,"lon":7.26409},{"lat":60.87142,"lon":7.26381},{"lat":60.87052,"lon":7.26344},{"lat":60.86946,"lon":7.26302},{"lat":60.86901,"lon":7.26302},{"lat":60.8684,"lon":7.26326},{"lat":60.86778,"lon":7.26419},{"lat":60.86748,"lon":7.26488},{"lat":60.86699,"lon":7.26549},{"lat":60.86661,"lon":7.26512},{"lat":60.86627,"lon":7.26507},{"lat":60.8616,"lon":7.26507}]},"mark":{"type":"area","color":"white","opacity":1,"orient":"horizontal","interpolate":"linear"},"encoding":{"x2":{"datum":7.26019}}},
{"data":{"values":[{"lat":60.86822,"lon":7.30698},{"lat":60.86796,"lon":7.30744},{"lat":60.86744,"lon":7.30856},{"lat":60.86706,"lon":7.3093},{"lat":60.86683,"lon":7.30939},{"lat":60.86593,"lon":7.31093}]},"mark":{"type":"area","color":"white","opacity":1,"orient":"horizontal","interpolate":"linear"},"encoding":{"x2":{"datum":7.31349}}}
]}
